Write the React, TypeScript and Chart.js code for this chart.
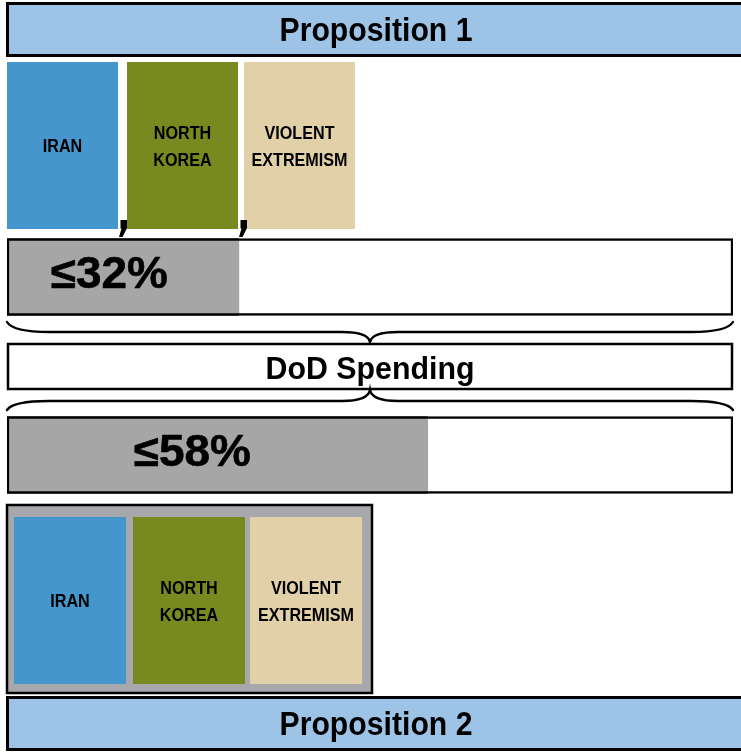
import React, { useEffect, useRef } from 'react';
import { Chart, registerables } from 'chart.js';

Chart.register(...registerables);

const W = 741;
const H = 752;

// ---- data ----
const propositions = ['Proposition 1', 'Proposition 2'];
const threats = ['IRAN', 'NORTH KOREA', 'VIOLENT EXTREMISM'];
const spendingShare = [32, 58];
const shareMax = 100;
const hubLabel = 'DoD Spending';
const sharePrefix = '≤';

// ---- styles ----
const PROP_FILL = '#9DC3E6';
const THREAT_FILLS = ['#4496CD', '#78891F', '#E2D1A8'];
const SHARE_FILL = '#A6A6A6';
const FRAME_FILL = '#A6A8AB';
const FONT = '"Liberation Sans", Arial, sans-serif';

// Draws horizontally-condensed text so that `refText` in this font would be `refWidth` wide.
function condensedText(
  ctx: CanvasRenderingContext2D,
  text: string,
  x: number,
  y: number,
  font: string,
  refText: string,
  refWidth: number,
  heavy = 0,
) {
  ctx.save();
  ctx.font = font;
  ctx.textAlign = 'center';
  ctx.textBaseline = 'alphabetic';
  ctx.fillStyle = '#000';
  const sx = refWidth / ctx.measureText(refText).width;
  ctx.translate(x, y);
  ctx.scale(sx, 1);
  ctx.fillText(text, 0, 0);
  if (heavy > 0) {
    ctx.strokeStyle = '#000';
    ctx.lineWidth = heavy;
    ctx.lineJoin = 'round';
    ctx.strokeText(text, 0, 0);
  }
  ctx.restore();
}

function drawHeader(ctx: CanvasRenderingContext2D, text: string, y0: number, y1: number) {
  ctx.fillStyle = PROP_FILL;
  ctx.fillRect(6, y0, W - 6, y1 - y0);
  ctx.strokeStyle = '#000';
  ctx.lineWidth = 3;
  ctx.beginPath();
  ctx.moveTo(W + 2, y0 + 0.5);
  ctx.lineTo(7.5, y0 + 0.5);
  ctx.lineTo(7.5, y1 - 0.5);
  ctx.lineTo(W + 2, y1 - 0.5);
  ctx.stroke();
  condensedText(ctx, text, 376, y0 + 38, `bold 33px ${FONT}`, 'Proposition 1', 193);
}

function drawThreatRow(ctx: CanvasRenderingContext2D, xs: number[], w: number, y0: number, y1: number) {
  threats.forEach((name, i) => {
    ctx.fillStyle = THREAT_FILLS[i];
    ctx.fillRect(xs[i], y0, w, y1 - y0);
    const lines = name.split(' ');
    const cy = (y0 + y1) / 2;
    const lh = 27;
    lines.forEach((ln, j) => {
      const ly = cy + (j - (lines.length - 1) / 2) * lh;
      condensedText(ctx, ln, xs[i] + w / 2, ly + 6.5, `bold 18px ${FONT}`, 'EXTREMISM', 96);
    });
  });
}

function drawComma(ctx: CanvasRenderingContext2D, x: number, y: number) {
  ctx.fillStyle = '#000';
  ctx.beginPath();
  ctx.moveTo(x + 2, y);
  ctx.lineTo(x + 8.5, y);
  ctx.lineTo(x + 8.5, y + 8);
  ctx.lineTo(x + 4, y + 17);
  ctx.lineTo(x + 0.5, y + 17);
  ctx.lineTo(x + 3, y + 8.5);
  ctx.lineTo(x + 2, y + 8.5);
  ctx.closePath();
  ctx.fill();
}

function drawBrace(ctx: CanvasRenderingContext2D, x0: number, x1: number, yEnd: number, yFlat: number, yTip: number) {
  const xm = (x0 + x1) / 2;
  const re = 42;
  const rm = 28;
  ctx.strokeStyle = '#000';
  ctx.lineWidth = 2.4;
  ctx.lineCap = 'round';
  ctx.beginPath();
  ctx.moveTo(x0, yEnd);
  ctx.quadraticCurveTo(x0 + 6, yFlat, x0 + re, yFlat);
  ctx.lineTo(xm - rm, yFlat);
  ctx.quadraticCurveTo(xm - 2, yFlat, xm, yTip);
  ctx.quadraticCurveTo(xm + 2, yFlat, xm + rm, yFlat);
  ctx.lineTo(x1 - re, yFlat);
  ctx.quadraticCurveTo(x1 - 6, yFlat, x1, yEnd);
  ctx.stroke();
}

const layoutPlugin = {
  id: 'infographicLayout',
  beforeDatasetsDraw(chart: any) {
    const ctx: CanvasRenderingContext2D = chart.ctx;
    ctx.save();
    ctx.fillStyle = '#fff';
    ctx.fillRect(0, 0, W, H);

    drawHeader(ctx, propositions[0], 3, 56);
    drawHeader(ctx, propositions[1], 697, 750);

    // top row of threats, separated by commas
    drawThreatRow(ctx, [7, 127, 244], 111, 62, 229);
    drawComma(ctx, 118.5, 220);
    drawComma(ctx, 238.5, 220);

    // braces and hub
    drawBrace(ctx, 7, 733, 322, 332, 342);
    ctx.fillStyle = '#fff';
    ctx.fillRect(7, 343, 726, 46);
    ctx.strokeStyle = '#000';
    ctx.lineWidth = 2.5;
    ctx.strokeRect(8, 344, 724, 45);
    condensedText(ctx, hubLabel, 370, 379, `bold 32px ${FONT}`, hubLabel, 209);
    drawBrace(ctx, 7, 733, 410, 401, 390);

    // bottom frame
    ctx.fillStyle = FRAME_FILL;
    ctx.fillRect(6, 504, 366, 189);
    ctx.strokeStyle = '#000';
    ctx.lineWidth = 2.5;
    ctx.strokeRect(7, 505, 365, 188);
    drawThreatRow(ctx, [14, 133, 250], 112, 517, 684);
    ctx.restore();
  },
  afterDatasetsDraw(chart: any) {
    const ctx: CanvasRenderingContext2D = chart.ctx;
    const meta = chart.getDatasetMeta(0);
    const left = chart.chartArea.left;
    meta.data.forEach((bar: any, i: number) => {
      const cx = left + (bar.x - left) * 0.44;
      condensedText(
        ctx,
        `${sharePrefix}${spendingShare[i]}%`,
        cx,
        bar.y + 11,
        `bold 44px ${FONT}`,
        '≤32%',
        117,
        0.6,
      );
    });
  },
};

export default function App() {
  const ref = useRef<HTMLCanvasElement | null>(null);
  useEffect(() => {
    if (!ref.current) return;
    const chart = new Chart(ref.current, {
      type: 'bar',
      data: {
        labels: propositions,
        datasets: [
          {
            label: 'DoD spending share',
            data: spendingShare,
            backgroundColor: SHARE_FILL,
            borderColor: '#000',
            borderWidth: 2.5,
            borderSkipped: 'end',
            grouped: false,
            order: 0,
            barThickness: 77,
          } as any,
          {
            label: 'Total',
            data: propositions.map(() => shareMax),
            backgroundColor: '#fff',
            borderColor: '#000',
            borderWidth: 2.5,
            borderSkipped: false,
            grouped: false,
            order: 1,
            barThickness: 77,
          } as any,
        ],
      },
      options: {
        indexAxis: 'y',
        responsive: false,
        animation: false,
        devicePixelRatio: 1,
        layout: { padding: { top: 188, bottom: 208, left: 7, right: 8 } },
        scales: {
          x: { display: false, min: 0, max: shareMax },
          y: { display: false },
        },
        plugins: { legend: { display: false }, tooltip: { enabled: false } },
      },
      plugins: [layoutPlugin],
    });
    return () => chart.destroy();
  }, []);
  return (
    <div style={{ position: 'fixed', left: 0, top: 0, width: W, height: H }}>
      <canvas ref={ref} width={W} height={H} style={{ display: 'block' }} />
    </div>
  );
}
